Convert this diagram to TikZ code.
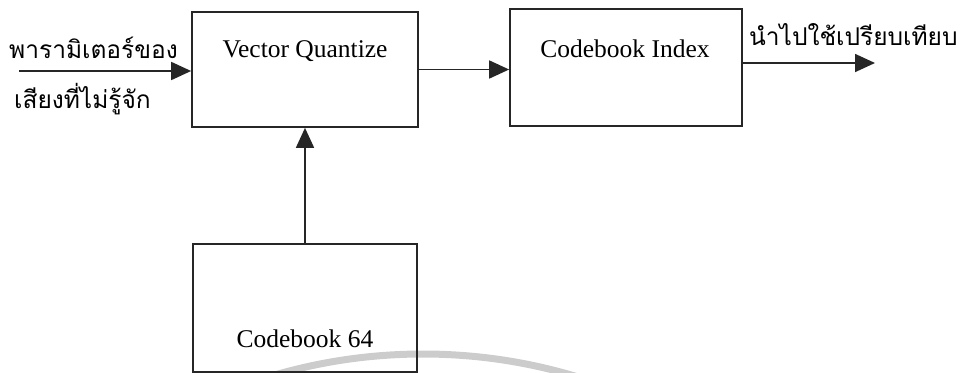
\documentclass[tikz,border=0pt]{standalone}
\usepackage{fontspec}
\setmainfont{Liberation Serif}
\newfontfamily\thaifont[Script=Thai]{Loma}
\usetikzlibrary{arrows.meta}
\tikzset{
  blockbox/.style={draw=black!85, line width=1.7pt, inner sep=0pt},
  boxtext/.style={anchor=base, inner sep=0pt, font=\fontsize{25.5}{28}\selectfont},
  thaitext/.style={anchor=base west, inner sep=0pt, font=\thaifont\fontsize{24.5}{28}\selectfont},
  flow/.style={draw=black!85, line width=1.7pt, -{Triangle[length=20pt,width=18pt]}},
  wmark/.style={draw=black!20, line width=7pt}
}
\begin{document}
\begin{tikzpicture}[x=1pt,y=-1pt]
\useasboundingbox (0,0) rectangle (974,372);
% faint watermark arc
\begin{scope}
  \clip (0,0) rectangle (974,372);
  \draw[wmark] (423,884) circle[radius=530pt];
\end{scope}
% boxes
\node[blockbox, minimum width=226pt, minimum height=115pt] (vq) at (305,69.5) {};
\node[blockbox, minimum width=232pt, minimum height=117pt] (ci) at (626,67.5) {};
\node[blockbox, minimum width=224pt, minimum height=128pt] (cb) at (305,308) {};
% box texts
\node[boxtext] (vqt) at (305,57) {Vector Quantize};
\node[boxtext] (cit) at (625,57) {Codebook Index};
\node[boxtext] (cbt) at (305,347) {Codebook 64};
% thai labels
\node[thaitext] (in1) at (9,58) {พารามิเตอร์ของ};
\node[thaitext] (in2) at (14,108) {เสียงที่ไม่รู้จัก};
\node[thaitext] (outt) at (749,45) {นำไปใช้เปรียบเทียบ};
% connectors
\coordinate (inStart) at (19,71);
\coordinate (outEnd) at (875,63);
\draw[flow] (inStart) -- (inStart -| vq.west);
\draw[flow] (vq.east) -- (vq.east -| ci.west);
\draw[flow] (cb.north) -- (vq.south);
\draw[flow] (ci.east |- outEnd) -- (outEnd);
\end{tikzpicture}
\end{document}
